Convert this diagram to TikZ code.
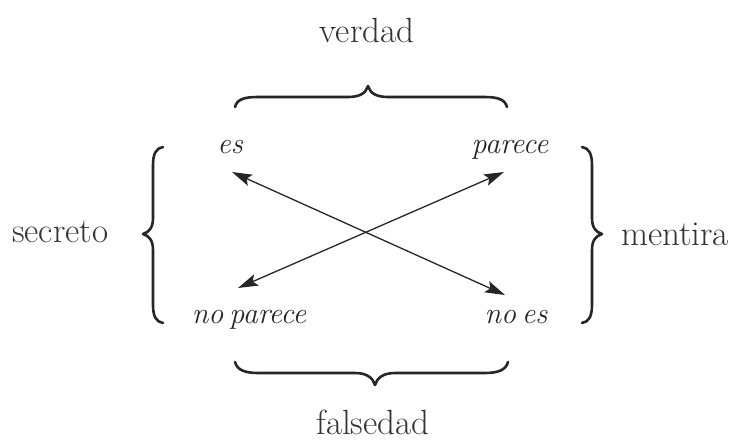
\documentclass[tikz,border=0pt]{standalone}
\usetikzlibrary{arrows.meta}
\tikzset{
  brace/.style={line width=2.6pt, line cap=round, line join=round, black!85},
  conn/.style={line width=1.3pt, black!85, {Stealth[length=20pt,width=12pt,inset=4pt]}-{Stealth[length=20pt,width=12pt,inset=4pt]}},
  big/.style={font=\fontsize{35}{40}\selectfont, text=black!80, inner sep=0pt, anchor=base},
  lab/.style={font=\fontsize{30}{34}\selectfont\itshape, text=black!85, inner sep=0pt, anchor=base},
}
\begin{document}
\begin{tikzpicture}[x=1pt,y=-1pt]
\useasboundingbox (0,0) rectangle (740,442);
% outer labels
\node[big] (verdad) at (367,42) {verdad};
\node[big] (falsedad) at (373,434) {falsedad};
\node[big, anchor=base west] (secreto) at (12,242) {secreto};
\node[big, anchor=base west] (mentira) at (621,245) {mentira};
% inner labels
\node[lab] (es) at (230,153) {es};
\node[lab] (parece) at (510,153) {parece};
\node[lab] (noparece) at (249,323) {no\hspace{0.2em}parece};
\node[lab] (noes) at (516,323) {no\hspace{0.2em}es};
% arrow ends
\coordinate (esA) at (232,172);
\coordinate (noesA) at (505,295);
\coordinate (pareceA) at (504,172);
\coordinate (noepA) at (238,288);
\draw[conn] (esA) -- (noesA);
\draw[conn] (noepA) -- (pareceA);
% top brace
\draw[brace] (235,107) .. controls (237,99) and (245,97) .. (258,97) -- (348,97)
  .. controls (360,97) and (366,93) .. (368,86)
  .. controls (370,93) and (376,97) .. (388,97) -- (484,97)
  .. controls (497,97) and (505,99) .. (507,107);
% bottom brace
\draw[brace] (235,362) .. controls (237,370) and (245,373) .. (258,373) -- (355,373)
  .. controls (367,373) and (373,378) .. (375,385)
  .. controls (377,378) and (383,373) .. (395,373) -- (485,373)
  .. controls (498,373) and (506,370) .. (508,362);
% left brace
\draw[brace] (163,147) .. controls (156,148) and (153,154) .. (153,165) -- (153,218)
  .. controls (153,228) and (149,232) .. (143,234)
  .. controls (149,236) and (153,240) .. (153,250) -- (153,305)
  .. controls (153,316) and (156,322) .. (163,323);
% right brace
\draw[brace] (582,147) .. controls (589,148) and (592,154) .. (592,165) -- (592,218)
  .. controls (592,228) and (596,232) .. (602,234)
  .. controls (596,236) and (592,240) .. (592,250) -- (592,305)
  .. controls (592,316) and (589,322) .. (582,323);
\end{tikzpicture}
\end{document}
